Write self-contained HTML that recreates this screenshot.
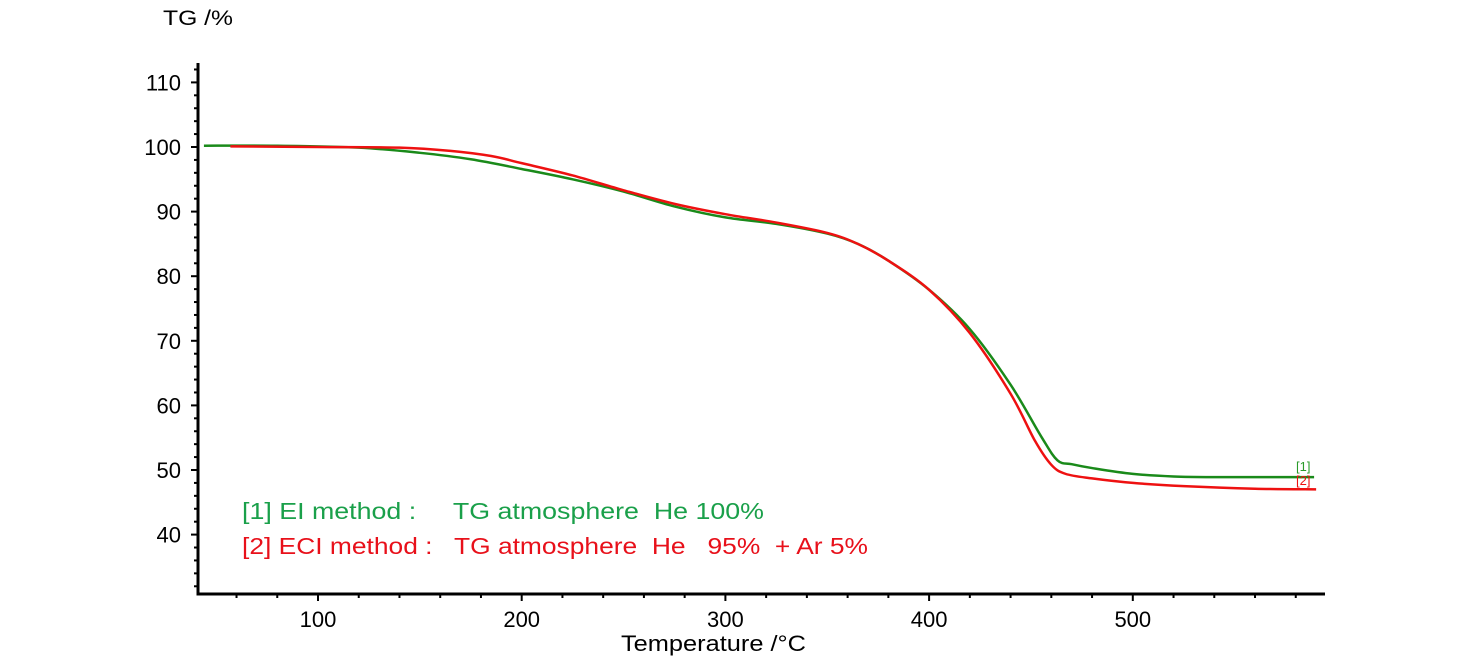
<!DOCTYPE html>
<html><head><meta charset="utf-8"><style>
html,body{margin:0;padding:0;background:#fff;}
svg{display:block;font-family:"Liberation Sans",Arial,sans-serif;}
</style></head><body>
<svg id="s" width="1475" height="657" viewBox="0 0 1475 657" xmlns="http://www.w3.org/2000/svg">
<text x="163" y="25" font-size="21" fill="#000" textLength="70" lengthAdjust="spacingAndGlyphs">TG /%</text>
<text x="621" y="651" font-size="22" fill="#000" textLength="185" lengthAdjust="spacingAndGlyphs">Temperature /°C</text>
<g id="ax" stroke="#000" stroke-width="3" fill="none">
<line x1="198" y1="63" x2="198" y2="595"/>
<line x1="196.5" y1="594" x2="1325" y2="594"/>
</g>
<g id="ticks" stroke="#000" stroke-width="2"></g>
<g id="lab" font-size="22" fill="#000"></g>
<path id="g" fill="none" stroke="#1a8a1a" stroke-width="2.5"/>
<path id="r" fill="none" stroke="#ee1111" stroke-width="2.5"/>
<text x="1296" y="471" font-size="13" fill="#2a9a2a">[1]</text>
<text x="1296" y="485" font-size="13" fill="#ee1111">[2]</text>
<text x="242" y="519" font-size="23" fill="#1aa04a" xml:space="preserve" textLength="522" lengthAdjust="spacingAndGlyphs">[1] EI method :     TG atmosphere  He 100%</text>
<text x="242" y="554" font-size="23" fill="#e8101a" xml:space="preserve" textLength="626" lengthAdjust="spacingAndGlyphs">[2] ECI method :   TG atmosphere  He   95%  + Ar 5%</text>
</svg>
<script>
const X=t=>318+(t-100)*2.037, Y=v=>147+(100-v)*6.46;
const NS="http://www.w3.org/2000/svg";
const tk=document.getElementById('ticks'), lb=document.getElementById('lab');
function L(x1,y1,x2,y2){const l=document.createElementNS(NS,'line');l.setAttribute('x1',x1);l.setAttribute('y1',y1);l.setAttribute('x2',x2);l.setAttribute('y2',y2);tk.appendChild(l);}
function T(x,y,s,a){const t=document.createElementNS(NS,'text');t.setAttribute('x',x);t.setAttribute('y',y);t.setAttribute('text-anchor',a);t.textContent=s;lb.appendChild(t);}
for(let v=32;v<=114;v+=2){const y=Y(v);if(y<64||y>593)continue;if(v%10==0){L(191,y,198,y);T(181,y+8,v,'end');}else L(194,y,198,y);}
for(let t=40;t<=590;t+=20){const x=X(t);if(x<200)continue;if(t%100==0){L(x,594,x,601);T(x,627,t,'middle');}else L(x,594,x,598);}
function path(pts){const p=pts.map(([t,v])=>[X(t),Y(v)]);let d='M'+p[0][0]+','+p[0][1];
for(let i=0;i<p.length-1;i++){const p0=p[i-1]||p[i],p1=p[i],p2=p[i+1],p3=p[i+2]||p2;
d+=` C${p1[0]+(p2[0]-p0[0])/6},${p1[1]+(p2[1]-p0[1])/6} ${p2[0]-(p3[0]-p1[0])/6},${p2[1]-(p3[1]-p1[1])/6} ${p2[0]},${p2[1]}`;}return d;}
document.getElementById('g').setAttribute('d',path([[44,100.2],[80,100.2],[120,99.9],[150,99.1],[175,98.1],[200,96.6],[225,95.0],[250,93.1],[275,90.8],[300,89.1],[325,88.1],[350,86.6],[365,85.0],[380,82.4],[400,77.9],[420,71.8],[440,63.2],[455,55.2],[463,51.5],[470,50.9],[480,50.3],[500,49.4],[520,49.0],[540,48.9],[589,48.9]]));
document.getElementById('r').setAttribute('d',path([[57,100.1],[100,100.0],[140,99.9],[165,99.4],[185,98.6],[200,97.5],[225,95.6],[250,93.3],[275,91.2],[300,89.6],[325,88.3],[350,86.7],[365,85.0],[380,82.4],[400,77.9],[420,71.2],[440,61.8],[452,54.5],[460,50.8],[467,49.4],[480,48.7],[500,48.0],[525,47.5],[560,47.1],[590,47.0]]));
</script>
</body></html>
